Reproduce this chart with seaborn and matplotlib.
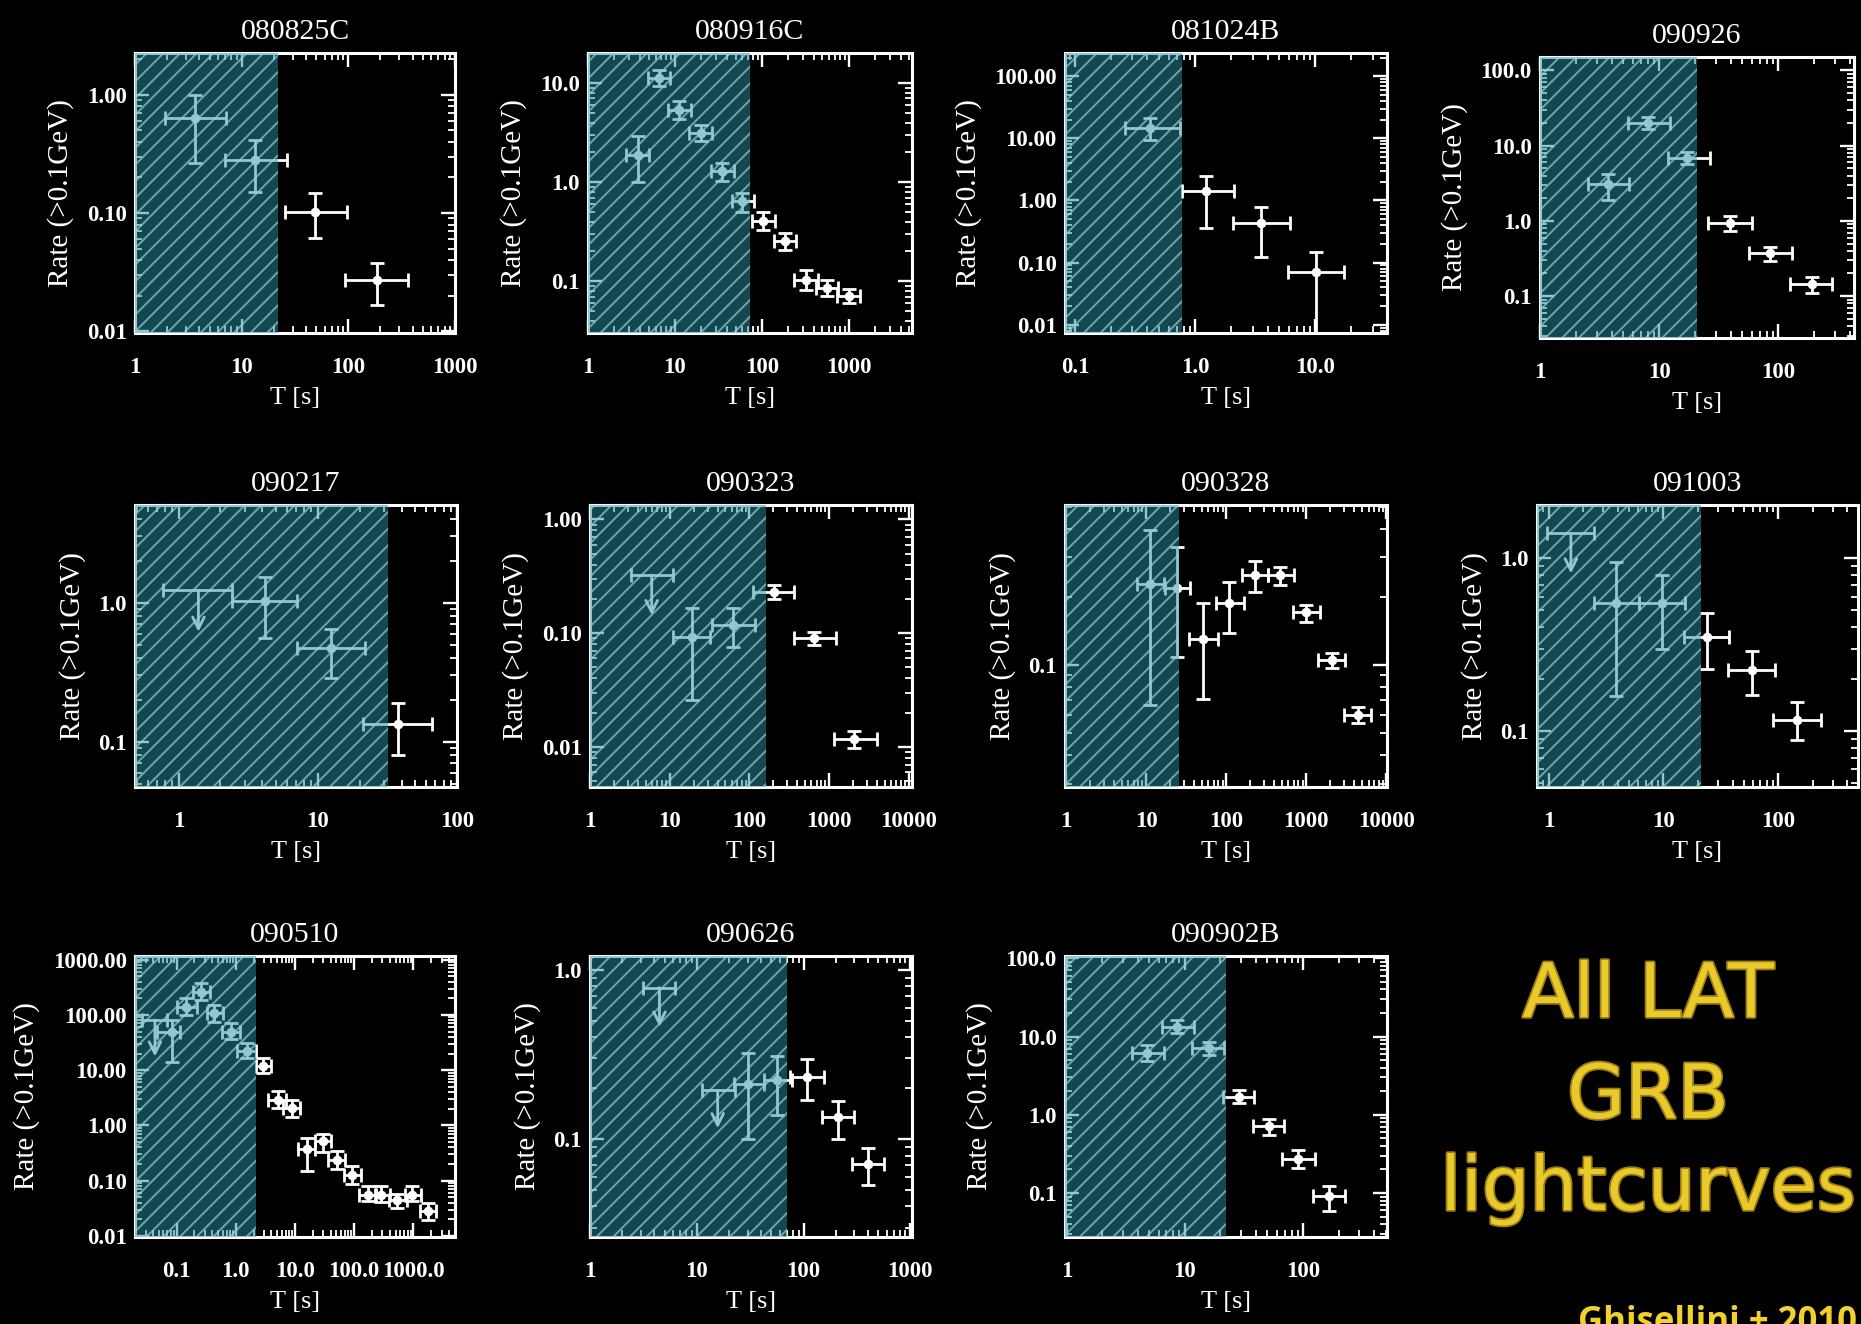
import numpy as np
import pandas as pd
import matplotlib
matplotlib.use("Agg")
import matplotlib.pyplot as plt
import matplotlib.ticker as mticker
import matplotlib.patheffects as pe
import seaborn as sns

# ---------------- data ----------------
# GRB 080825C
t_080825C = [3.65, 13.3, 48.7, 184]
tmin_080825C = [1.91, 6.98, 25.5, 93]
tmax_080825C = [7.2, 26.4, 96.4, 365]
rate_080825C = [0.635, 0.282, 0.103, 0.0273]
rmin_080825C = [0.265, 0.152, 0.0615, 0.0168]
rmax_080825C = [1.0, 0.417, 0.148, 0.038]
shade_080825C = 22

# GRB 080916C
t_080916C = [3.78, 6.54, 11.1, 19.8, 35.2, 59.8, 104, 186, 325, 562, 1000]
tmin_080916C = [2.77, 4.9, 8.4, 14.6, 25.8, 45, 78, 139, 238, 424, 733]
tmax_080916C = [5.06, 8.9, 15.2, 27, 48, 81.6, 142, 249, 443, 753, 1340]
rate_080916C = [1.89, 11.2, 5.38, 3.13, 1.29, 0.641, 0.403, 0.253, 0.104, 0.0857, 0.0706]
rmin_080916C = [1.0, 9.25, 4.37, 2.58, 1.02, 0.50, 0.327, 0.206, 0.0824, 0.0706, 0.0605]
rmax_080916C = [2.9, 13.6, 6.53, 3.8, 1.56, 0.778, 0.50, 0.307, 0.131, 0.104, 0.0837]
shade_080916C = 73

# GRB 081024B
t_081024B = [0.422, 1.235, 3.53, 10.2]
tmin_081024B = [0.261, 0.774, 2.06, 5.88]
tmax_081024B = [0.75, 2.09, 6.11, 17.2]
rate_081024B = [14.7, 1.40, 0.441, 0.0716]
rmin_081024B = [9.5, 0.358, 0.125, 0.005]
rmax_081024B = [21.3, 2.44, 0.78, 0.147]
shade_081024B = 0.774

# GRB 090926
t_090926 = [3.75, 8.11, 17.0, 39.3, 85.1, 190]
tmin_090926 = [2.55, 5.51, 11.9, 25.9, 57.1, 125]
tmax_090926 = [5.62, 12.3, 26.7, 59.7, 129, 280]
rate_090926 = [3.08, 20.1, 6.78, 0.95, 0.371, 0.143]
rmin_090926 = [1.9, 16.7, 5.7, 0.735, 0.293, 0.111]
rmax_090926 = [4.19, 23.9, 8.15, 1.17, 0.45, 0.179]
shade_090926 = 20.6

# GRB 090217
t_090217 = [4.16, 12.4, 37.4]
tmin_090217 = [2.42, 7.11, 21.3]
tmax_090217 = [7.04, 21.9, 65.7]
rate_090217 = [1.03, 0.469, 0.1355]
rmin_090217 = [0.56, 0.29, 0.080]
rmax_090217 = [1.52, 0.647, 0.191]
ul_t_090217 = [1.39]
ul_tmin_090217 = [0.78]
ul_tmax_090217 = [2.42]
ul_rate_090217 = [1.23]
ul_tip_090217 = [0.618]
shade_090217 = 32.2

# GRB 090323
t_090323 = [19.3, 63.2, 201, 640, 2077]
tmin_090323 = [11.1, 34.4, 111, 359, 1142]
tmax_090323 = [32.2, 118, 359, 1233, 4000]
rate_090323 = [0.0929, 0.119, 0.231, 0.091, 0.01168]
rmin_090323 = [0.0258, 0.0759, 0.198, 0.0784, 0.0098]
rmax_090323 = [0.165, 0.165, 0.264, 0.103, 0.01374]
ul_t_090323 = [5.95]
ul_tmin_090323 = [3.27]
ul_tmax_090323 = [11.1]
ul_rate_090323 = [0.324]
ul_tip_090323 = [0.144]
shade_090323 = 163

# GRB 090328
t_090328 = [11.2, 24.2, 51.1, 110, 230, 473, 1000, 2094, 4385]
tmin_090328 = [7.79, 17.3, 34.8, 75, 157, 329, 681, 1400, 2930]
tmax_090328 = [16.5, 35.5, 78, 165, 329, 695, 1468, 3073, 6430]
rate_090328 = [0.2275, 0.219, 0.130, 0.187, 0.25, 0.25, 0.171, 0.105, 0.0601]
rmin_090328 = [0.0667, 0.108, 0.0712, 0.138, 0.211, 0.225, 0.155, 0.0967, 0.0553]
rmax_090328 = [0.394, 0.33, 0.187, 0.233, 0.288, 0.272, 0.184, 0.1125, 0.0655]
shade_090328 = 26.1

# GRB 091003
t_091003 = [3.88, 9.68, 23.8, 59.4, 147]
tmin_091003 = [2.49, 6.06, 15.1, 36.7, 90.5]
tmax_091003 = [6.06, 15.4, 37.5, 93.5, 235]
rate_091003 = [0.553, 0.553, 0.351, 0.225, 0.116]
rmin_091003 = [0.159, 0.30, 0.227, 0.161, 0.0883]
rmax_091003 = [0.948, 0.8, 0.48, 0.29, 0.147]
ul_t_091003 = [1.56]
ul_tmin_091003 = [0.967]
ul_tmax_091003 = [2.49]
ul_rate_091003 = [1.40]
ul_tip_091003 = [0.818]
shade_091003 = 21.1

# GRB 090510
t_090510 = [0.0823, 0.142, 0.257, 0.434, 0.828, 1.52, 2.92, 5.09, 8.79, 15.7,
            29.4, 50.6, 93, 169, 284, 537, 961, 1795]
tmin_090510 = [0.046, 0.1, 0.186, 0.321, 0.577, 1.06, 2.19, 3.54, 6.36, 11.4,
               21.8, 36.6, 67.3, 122, 225, 393, 722, 1297]
tmax_090510 = [0.114, 0.218, 0.366, 0.598, 1.18, 2.19, 3.88, 7.05, 12.2, 21.8,
               40.6, 70, 129, 234, 404, 771, 1330, 2415]
rate_090510 = [50, 141, 264, 110, 50, 22.7, 12.1, 2.91, 2.06, 0.373,
               0.514, 0.233, 0.128, 0.0558, 0.0558, 0.0454, 0.0558, 0.0279]
rmin_090510 = [14.3, 100, 187, 75.8, 36.3, 16.5, 8.83, 2.06, 1.41, 0.1475,
               0.325, 0.1625, 0.0883, 0.0423, 0.0406, 0.0321, 0.0423, 0.0197]
rmax_090510 = [81, 200, 373, 151, 70.7, 31.6, 16.5, 4.12, 2.91, 0.59,
               0.707, 0.339, 0.1867, 0.079, 0.079, 0.0582, 0.079, 0.0395]
ul_t_090510 = [0.043]
ul_tmin_090510 = [0.0257]
ul_tmax_090510 = [0.0678]
ul_rate_090510 = [81]
ul_tip_090510 = [17.7]
shade_090510 = 2.19

# GRB 090626
t_090626 = [29.9, 57.0, 107, 208, 398]
tmin_090626 = [22.1, 42.2, 75, 149, 284]
tmax_090626 = [42.8, 77.7, 154, 299, 562]
rate_090626 = [0.212, 0.224, 0.2345, 0.135, 0.0711]
rmin_090626 = [0.1, 0.139, 0.171, 0.1, 0.0537]
rmax_090626 = [0.325, 0.312, 0.297, 0.168, 0.0885]
ul_t_090626 = [4.47, 15.7]
ul_tmin_090626 = [3.16, 11.1]
ul_tmax_090626 = [6.26, 22.9]
ul_rate_090626 = [0.787, 0.194]
ul_tip_090626 = [0.463, 0.116]
shade_090626 = 69.8

# GRB 090902B
t_090902B = [4.8, 8.61, 16.0, 28.6, 51.3, 90.7, 165]
tmin_090902B = [3.59, 6.43, 11.5, 21.1, 37.8, 66.5, 121.5]
tmax_090902B = [6.65, 11.9, 21.6, 38.3, 68.7, 127, 228]
rate_090902B = [6.13, 13.4, 7.1, 1.71, 0.71, 0.272, 0.0906]
rmin_090902B = [4.8, 11.0, 5.83, 1.41, 0.556, 0.209, 0.0583]
rmax_090902B = [7.83, 16.3, 8.63, 2.08, 0.88, 0.351, 0.1217]
shade_090902B = 22.4

# tick values / labels
xt_1_1000 = [1, 10, 100, 1000]
xt_1_100 = [1, 10, 100]
xt_1_10000 = [1, 10, 100, 1000, 10000]
xt_01_10 = [0.1, 1, 10]
xt_01_1000 = [0.1, 1, 10, 100, 1000]
xl_01_10 = ["0.1", "1.0", "10.0"]
xl_01_1000 = ["0.1", "1.0", "10.0", "100.0", "1000.0"]

title_lines = ["All LAT", "GRB", "lightcurves"]
credit = "Ghisellini + 2010"

# ---------------- assemble panels ----------------
panels = [
    dict(name="080825C", t=t_080825C, tmin=tmin_080825C, tmax=tmax_080825C, r=rate_080825C,
         rmin=rmin_080825C, rmax=rmax_080825C, shade=shade_080825C,
         xlim=(1, 1000), ylim=(0.0097, 2.25), xt=xt_1_1000, xl=None,
         yt=[0.01, 0.1, 1], yl=["0.01", "0.10", "1.00"], box=(135, 53, 455, 333)),
    dict(name="080916C", t=t_080916C, tmin=tmin_080916C, tmax=tmax_080916C, r=rate_080916C,
         rmin=rmin_080916C, rmax=rmax_080916C, shade=shade_080916C,
         xlim=(1, 5370), ylim=(0.0301, 20.1), xt=xt_1_1000, xl=None,
         yt=[0.1, 1, 10], yl=["0.1", "1.0", "10.0"], box=(588, 53, 912, 333)),
    dict(name="081024B", t=t_081024B, tmin=tmin_081024B, tmax=tmax_081024B, r=rate_081024B,
         rmin=rmin_081024B, rmax=rmax_081024B, shade=shade_081024B,
         xlim=(0.0825, 39.5), ylim=(0.00735, 237), xt=xt_01_10, xl=xl_01_10,
         yt=[0.01, 0.1, 1, 10, 100], yl=["0.01", "0.10", "1.00", "10.00", "100.00"],
         box=(1065, 53, 1387, 333)),
    dict(name="090926", t=t_090926, tmin=tmin_090926, tmax=tmax_090926, r=rate_090926,
         rmin=rmin_090926, rmax=rmax_090926, shade=shade_090926,
         xlim=(1, 431), ylim=(0.0278, 150), xt=xt_1_100, xl=None,
         yt=[0.1, 1, 10, 100], yl=["0.1", "1.0", "10.0", "100.0"], box=(1540, 57, 1854, 338)),
    dict(name="090217", t=t_090217, tmin=tmin_090217, tmax=tmax_090217, r=rate_090217,
         rmin=rmin_090217, rmax=rmax_090217, shade=shade_090217,
         ul=(ul_t_090217, ul_tmin_090217, ul_tmax_090217, ul_rate_090217, ul_tip_090217),
         xlim=(0.487, 100), ylim=(0.0474, 5.04), xt=xt_1_100, xl=None,
         yt=[0.1, 1], yl=["0.1", "1.0"], box=(135, 505, 457, 787)),
    dict(name="090323", t=t_090323, tmin=tmin_090323, tmax=tmax_090323, r=rate_090323,
         rmin=rmin_090323, rmax=rmax_090323, shade=shade_090323,
         ul=(ul_t_090323, ul_tmin_090323, ul_tmax_090323, ul_rate_090323, ul_tip_090323),
         xlim=(1, 11000), ylim=(0.00444, 1.34), xt=xt_1_10000, xl=None,
         yt=[0.01, 0.1, 1], yl=["0.01", "0.10", "1.00"], box=(590, 505, 912, 787)),
    dict(name="090328", t=t_090328, tmin=tmin_090328, tmax=tmax_090328, r=rate_090328,
         rmin=rmin_090328, rmax=rmax_090328, shade=shade_090328,
         xlim=(0.97, 10200), ylim=(0.029, 0.508), xt=xt_1_10000, xl=None,
         yt=[0.1], yl=["0.1"], box=(1065, 505, 1387, 787)),
    dict(name="091003", t=t_091003, tmin=tmin_091003, tmax=tmax_091003, r=rate_091003,
         rmin=rmin_091003, rmax=rmax_091003, shade=shade_091003,
         ul=(ul_t_091003, ul_tmin_091003, ul_tmax_091003, ul_rate_091003, ul_tip_091003),
         xlim=(0.79, 496), ylim=(0.0473, 2.04), xt=xt_1_100, xl=None,
         yt=[0.1, 1], yl=["0.1", "1.0"], box=(1537, 505, 1858, 787)),
    dict(name="090510", t=t_090510, tmin=tmin_090510, tmax=tmax_090510, r=rate_090510,
         rmin=rmin_090510, rmax=rmax_090510, shade=shade_090510,
         ul=(ul_t_090510, ul_tmin_090510, ul_tmax_090510, ul_rate_090510, ul_tip_090510),
         xlim=(0.0198, 5060), ylim=(0.0096, 1165), xt=xt_01_1000, xl=xl_01_1000,
         yt=[0.01, 0.1, 1, 10, 100, 1000],
         yl=["0.01", "0.10", "1.00", "10.00", "100.00", "1000.00"], box=(135, 956, 455, 1237)),
    dict(name="090626", t=t_090626, tmin=tmin_090626, tmax=tmax_090626, r=rate_090626,
         rmin=rmin_090626, rmax=rmax_090626, shade=shade_090626,
         ul=(ul_t_090626, ul_tmin_090626, ul_tmax_090626, ul_rate_090626, ul_tip_090626),
         xlim=(1, 1037), ylim=(0.0264, 1.21), xt=xt_1_1000, xl=None,
         yt=[0.1, 1], yl=["0.1", "1.0"], box=(590, 956, 912, 1237)),
    dict(name="090902B", t=t_090902B, tmin=tmin_090902B, tmax=tmax_090902B, r=rate_090902B,
         rmin=rmin_090902B, rmax=rmax_090902B, shade=shade_090902B,
         xlim=(0.97, 513), ylim=(0.0274, 107), xt=xt_1_100, xl=None,
         yt=[0.1, 1, 10, 100], yl=["0.1", "1.0", "10.0", "100.0"], box=(1065, 956, 1387, 1237)),
]

# ---------------- style ----------------
W, H = 1861, 1324
DPI = 100
sns.set_theme(style="ticks", rc={
    "figure.facecolor": "black", "axes.facecolor": "black",
    "axes.edgecolor": "white", "axes.linewidth": 2.2,
    "xtick.color": "white", "ytick.color": "white",
    "text.color": "white", "axes.labelcolor": "white",
    "xtick.direction": "in", "ytick.direction": "in",
    "xtick.top": True, "ytick.right": True,
    "xtick.major.size": 10, "ytick.major.size": 10,
    "xtick.minor.size": 5, "ytick.minor.size": 5,
    "xtick.major.width": 1.7, "ytick.major.width": 1.7,
    "xtick.minor.width": 1.3, "ytick.minor.width": 1.3,
    "xtick.major.pad": 17, "ytick.major.pad": 6,
    "hatch.linewidth": 1.4,
})
plt.rcParams["font.family"] = ["Liberation Serif", "DejaVu Serif"]

fig = plt.figure(figsize=(W / DPI, H / DPI), dpi=DPI)

tint = (44 / 255, 140 / 255, 156 / 255)
hatch_col = (0.52, 0.84, 0.90, 0.70)

for p in panels:
    x0, y0, x1, y1 = p["box"]
    ax = fig.add_axes([x0 / W, 1 - y1 / H, (x1 - x0) / W, (y1 - y0) / H])
    ax.set_xscale("log")
    ax.set_yscale("log")

    t = np.array(p["t"]); r = np.array(p["r"])
    xerr = [t - np.array(p["tmin"]), np.array(p["tmax"]) - t]
    yerr = [r - np.array(p["rmin"]), np.array(p["rmax"]) - r]
    ax.errorbar(t, r, xerr=xerr, yerr=yerr, fmt="none", ecolor="white",
                elinewidth=2.0, capsize=4.8, capthick=2.0, zorder=3)
    df = pd.DataFrame({"T": t, "Rate": r})
    sns.scatterplot(data=df, x="T", y="Rate", ax=ax, color="white", s=48,
                    edgecolor="white", linewidth=0, zorder=4, legend=False)

    if "ul" in p:
        ut, utmin, utmax, ur, utip = [np.array(v) for v in p["ul"]]
        ax.errorbar(ut, ur, xerr=[ut - utmin, utmax - ut], fmt="none", ecolor="white",
                    elinewidth=2.0, capsize=4.8, capthick=2.0, zorder=3)
        for xx, yy, tip in zip(ut, ur, utip):
            ax.annotate("", xy=(xx, tip), xytext=(xx, yy),
                        arrowprops=dict(arrowstyle="->,head_length=0.7,head_width=0.35",
                                        color="white", lw=2.0, shrinkA=0, shrinkB=0),
                        zorder=3)

    ax.set_xlim(*p["xlim"])
    ax.set_ylim(*p["ylim"])

    # shaded prompt-emission interval
    ax.axvspan(p["xlim"][0], p["shade"], facecolor=tint, alpha=0.5, lw=0, zorder=5)
    ax.axvspan(p["xlim"][0], p["shade"], facecolor="none", edgecolor=hatch_col,
               hatch="//", lw=0, zorder=6)

    ax.xaxis.set_major_locator(mticker.FixedLocator(p["xt"]))
    xl = p["xl"] if p["xl"] is not None else [str(v) for v in p["xt"]]
    ax.xaxis.set_major_formatter(mticker.FixedFormatter(xl))
    ax.yaxis.set_major_locator(mticker.FixedLocator(p["yt"]))
    ax.yaxis.set_major_formatter(mticker.FixedFormatter(p["yl"]))
    ax.xaxis.set_minor_locator(mticker.LogLocator(base=10, subs=np.arange(2, 10), numticks=50))
    ax.yaxis.set_minor_locator(mticker.LogLocator(base=10, subs=np.arange(2, 10), numticks=50))
    ax.xaxis.set_minor_formatter(mticker.NullFormatter())
    ax.yaxis.set_minor_formatter(mticker.NullFormatter())
    ax.tick_params(axis="both", which="major", labelsize=16.5)
    for lab in ax.get_xticklabels() + ax.get_yticklabels():
        lab.set_fontweight("bold")

    for s in ax.spines.values():
        s.set_color("white")
        s.set_linewidth(2.2)

    ax.set_title(p["name"], fontsize=21.5, color="white", pad=10)
    ax.set_xlabel("T [s]", fontsize=19, labelpad=7)
    ax.set_ylabel("Rate (>0.1GeV)", fontsize=21, labelpad=9)

# big yellow caption
yellow = "#e9c92b"
cx = 1648 / W
for txt, base in zip(title_lines, [1017, 1118, 1210]):
    fig.text(cx, 1 - base / H, txt, ha="center", va="baseline", fontsize=54,
             color=yellow, family=["DejaVu Sans"],
             path_effects=[pe.Stroke(linewidth=2.5, foreground="#9c7f10"), pe.Normal()])

fig.text(1578 / W, 1 - 1305 / H, credit, ha="left", va="top", fontsize=25,
         fontweight="bold", color="#f2d22a", family=["Open Sans", "DejaVu Sans"])

fig.savefig("out.png", dpi=DPI, facecolor="black")
